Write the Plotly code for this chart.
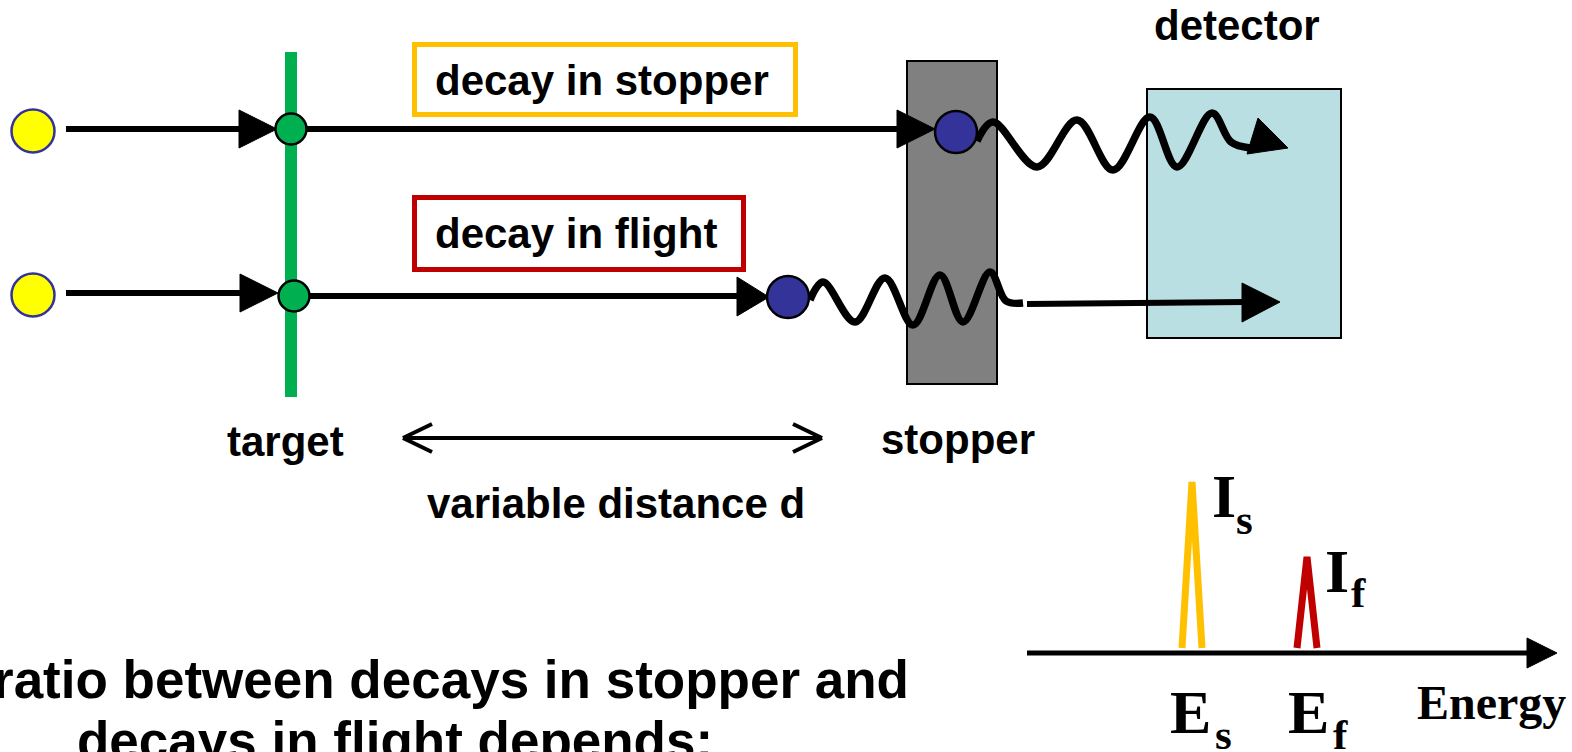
import plotly.graph_objects as go

W, H = 1572, 752

# ---------------- data (diagram geometry) ----------------
# incoming beam particles (yellow) and interaction points (green) on the target
BEAM_Y = [131, 295]
BEAM_X = 33
HIT_X = [291, 294]
HIT_Y = [129, 296]

# decay positions (blue): in stopper (upper) and in flight (lower)
DECAY_X = [956, 788]
DECAY_Y = [132, 297]

# gamma wave paths (x, y in picture units)
WAVE_STOP_X = [977, 993, 1037, 1077, 1113, 1150, 1177, 1212, 1231, 1250]
WAVE_STOP_Y = [141, 122, 167, 120, 170, 117, 167, 113, 142, 148]
WAVE_FLIGHT_X = [810, 823, 855, 885, 913, 940, 963, 990, 1006, 1023]
WAVE_FLIGHT_Y = [300, 282, 322, 278, 325, 275, 322, 272, 301, 303]

# spectrum peaks
PEAK_NAMES = ["s", "f"]
PEAK_CENTER = [1192, 1307]
PEAK_TOP = [482, 557]
PEAK_HALFWIDTH = [10, 10]
PEAK_COLORS = ["#FFC000", "#C00000"]
SPEC_BASE = 648

# ------------------------------------------------------------------------------
fig = go.Figure()
shapes = []
annos = []

def line(x0, y0, x1, y1, color="black", width=6, layer="above"):
    shapes.append(dict(type="line", x0=x0, y0=y0, x1=x1, y1=y1, layer=layer,
                       line=dict(color=color, width=width)))

def tri(pts, color="black", layer="above"):
    p = "M " + " L ".join(f"{x},{y}" for x, y in pts) + " Z"
    shapes.append(dict(type="path", path=p, fillcolor=color, layer=layer,
                       line=dict(color=color, width=1)))

def circ(cx, cy, r, fill, border, bw=2.5):
    shapes.append(dict(type="circle", x0=cx - r, x1=cx + r, y0=cy - r, y1=cy + r,
                       fillcolor=fill, layer="above", line=dict(color=border, width=bw)))

def rect(x0, y0, x1, y1, fill, border, bw, layer="below"):
    shapes.append(dict(type="rect", x0=x0, x1=x1, y0=y0, y1=y1, fillcolor=fill,
                       layer=layer, line=dict(color=border, width=bw)))

def text(x, y, s, size, family="Liberation Sans", xanchor="center"):
    annos.append(dict(x=x, y=y, text=s, showarrow=False, xanchor=xanchor, yanchor="middle",
                      font=dict(family=family, size=size, color="black", weight="bold")))

# stopper and detector
rect(907, 61, 997, 384, "#808080", "black", 2)
rect(1147, 89, 1341, 338, "#BADFE3", "black", 2)

# labelled boxes
rect(414.5, 44.5, 795.5, 114.5, "white", "#FFC000", 5, layer="above")
rect(414.5, 197.5, 743.5, 269.5, "white", "#C00000", 5, layer="above")

# green target line
line(291, 52, 291, 397, color="#00B050", width=12)

# incoming arrows
line(66, 129, 242, 129)
tri([(239, 110), (239, 148), (277, 129)])
line(66, 293, 242, 293)
tri([(240, 274), (240, 312), (278, 293)])

# after target
line(300, 129, 900, 129)
tri([(897, 110), (897, 148), (935, 129)])
line(300, 296, 740, 296)
tri([(737, 277), (737, 316), (769, 297)])

# gamma arrow heads / straight gamma
tri([(1258, 118), (1288, 148), (1247, 154)])
line(1027, 304, 1245, 302)
tri([(1242, 283), (1242, 322), (1280, 302)])

# circles
for y in BEAM_Y:
    circ(BEAM_X, y, 21.5, "#FFFF00", "#333399")
for x, y in zip(HIT_X, HIT_Y):
    circ(x, y, 15.5, "#00B050", "black")
for x, y in zip(DECAY_X, DECAY_Y):
    circ(x, y, 21, "#333399", "black")

# distance double arrow
line(403, 438, 822, 438, width=4)
line(403, 438, 432, 424, width=4)
line(403, 438, 432, 452, width=4)
line(822, 438, 793, 424, width=4)
line(822, 438, 793, 452, width=4)

# energy axis
line(1027, 653, 1530, 653, width=5)
tri([(1527, 638), (1527, 668), (1557, 653)])

# wave traces
for xs, ys in [(WAVE_STOP_X, WAVE_STOP_Y), (WAVE_FLIGHT_X, WAVE_FLIGHT_Y)]:
    fig.add_trace(go.Scatter(x=xs, y=ys, mode="lines", hoverinfo="skip",
                             line=dict(color="black", width=7.5, shape="spline", smoothing=1.0)))

# spectrum peaks
for c, t, hw, col in zip(PEAK_CENTER, PEAK_TOP, PEAK_HALFWIDTH, PEAK_COLORS):
    fig.add_trace(go.Scatter(x=[c - hw, c, c + hw], y=[SPEC_BASE, t, SPEC_BASE], mode="lines",
                             hoverinfo="skip", line=dict(color=col, width=7)))

# texts (Arial-like bold)
text(1237, 25, "detector", 42)
text(602, 80, "decay in stopper", 42)
text(576, 233, "decay in flight", 42)
text(285, 441, "target", 42)
text(958, 439, "stopper", 42)
text(616, 503, "variable distance d", 42)
text(451, 679, "ratio between decays in stopper and", 53)
text(395, 740, "decays in flight depends:", 53)

# Times-like labels
SERIF = "Liberation Serif"
text(1224, 496, "I", 62, SERIF)
text(1244, 519, "s", 43, SERIF)
text(1337, 571, "I", 62, SERIF)
text(1358, 592, "f", 43, SERIF)
text(1190, 712, "E", 62, SERIF)
text(1223, 734, "s", 43, SERIF)
text(1308, 712, "E", 62, SERIF)
text(1340, 734, "f", 43, SERIF)
text(1491, 702, "Energy", 48, SERIF)

fig.update_layout(
    width=W, height=H, margin=dict(l=0, r=0, t=0, b=0),
    paper_bgcolor="white", plot_bgcolor="white", showlegend=False,
    xaxis=dict(range=[0, W], visible=False, fixedrange=True),
    yaxis=dict(range=[H, 0], visible=False, fixedrange=True),
    shapes=shapes, annotations=annos,
)

fig.write_html("out.html", config={"displayModeBar": False},
               post_script="document.body.style.margin='0';")
